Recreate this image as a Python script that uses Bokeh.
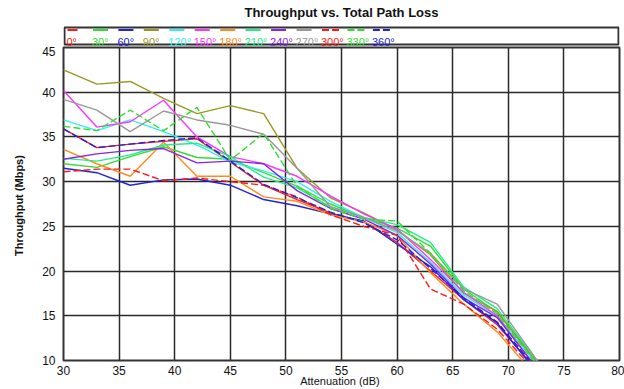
from bokeh.plotting import figure
from bokeh.layouts import column
from bokeh.models import Range1d, FixedTicker
from bokeh.core.properties import value
from bokeh.embed import file_html
from bokeh.resources import INLINE

# ---------------- data ----------------
attenuation = [30, 33, 36, 39, 42, 45, 48, 51, 54, 57, 60, 63, 66, 69, 73]

angles = ["0°", "30°", "60°", "90°", "120°", "150°", "180°", "210°", "240°", "270°", "300°", "330°", "360°"]

tp_0   = [35.9, 33.8, 34.2, 34.5, 34.8, 32.2, 29.6, 28.0, 26.5, 25.5, 23.2, 20.0, 16.8, 14.0, 8.3]
tp_30  = [32.0, 31.6, 32.8, 33.9, 32.7, 32.5, 31.0, 29.5, 27.5, 26.0, 24.8, 22.8, 18.0, 15.4, 9.0]
tp_60  = [31.5, 31.0, 29.6, 30.2, 30.3, 29.6, 28.0, 27.3, 26.4, 25.6, 23.0, 20.5, 16.8, 14.2, 8.0]
tp_90  = [42.5, 40.9, 41.2, 39.3, 37.6, 38.5, 37.6, 31.5, 28.2, 26.5, 24.6, 21.8, 17.5, 15.5, 9.2]
tp_120 = [36.9, 35.7, 36.9, 35.6, 34.1, 32.2, 31.2, 30.0, 27.8, 26.0, 24.3, 21.0, 17.3, 15.0, 8.9]
tp_150 = [40.2, 36.1, 36.7, 39.1, 35.0, 32.8, 32.0, 30.6, 28.4, 26.4, 24.7, 21.3, 17.6, 15.0, 8.3]
tp_180 = [33.6, 32.0, 30.6, 34.4, 30.6, 30.6, 28.3, 27.8, 26.3, 25.5, 24.0, 19.8, 16.3, 13.2, 7.5]
tp_210 = [32.6, 32.3, 33.0, 34.1, 34.3, 32.8, 30.5, 29.3, 27.2, 26.0, 25.2, 23.2, 18.2, 15.8, 9.3]
tp_240 = [32.5, 33.1, 33.5, 33.7, 32.1, 32.3, 32.0, 29.0, 27.0, 25.8, 24.0, 20.8, 17.0, 14.8, 8.5]
tp_270 = [39.2, 38.0, 35.6, 37.9, 36.9, 36.3, 35.3, 31.5, 27.2, 26.0, 24.5, 22.0, 18.0, 16.3, 9.3]
tp_300 = [31.1, 31.4, 31.4, 30.1, 30.4, 30.0, 29.6, 28.3, 26.3, 25.0, 24.0, 18.0, 16.3, 13.5, 8.0]
tp_330 = [36.2, 35.7, 38.0, 35.7, 38.3, 32.4, 35.4, 29.5, 27.0, 25.8, 25.6, 22.0, 17.8, 15.2, 8.8]
tp_360 = [35.9, 33.8, 34.2, 34.6, 34.9, 32.3, 29.7, 28.2, 26.6, 25.4, 23.5, 20.3, 17.0, 14.3, 8.4]

series = [tp_0, tp_30, tp_60, tp_90, tp_120, tp_150, tp_180, tp_210, tp_240, tp_270, tp_300, tp_330, tp_360]

x_ticks = [30, 35, 40, 45, 50, 55, 60, 65, 70, 75, 80]
y_ticks = [10, 15, 20, 25, 30, 35, 40, 45]

# ---------------- style ----------------
colors = ["#ff1a1a", "#33dd33", "#2222dd", "#999922", "#33eeee", "#ff33ff", "#ff8c1a",
          "#22ee88", "#8822ee", "#999999", "#ff1a1a", "#33dd33", "#2222dd"]
dashes = ["solid"] * 10 + ["7 3"] * 3
FONT = "Liberation Sans"

W = 624
LEG_H = 46
MAIN_H = 343
LEFT = 63
RIGHT = 5

# ---------------- title + legend strip ----------------
# its frame is aligned with the main frame by the column layout,
# so a range of (LEFT, W-RIGHT) gives page-pixel units
leg = figure(width=W, height=LEG_H, x_range=Range1d(LEFT, W - RIGHT), y_range=Range1d(0, LEG_H),
             x_axis_location=None, y_axis_location=None,
             output_backend="svg", toolbar_location=None,
             min_border_left=LEFT, min_border_right=RIGHT, min_border_top=0, min_border_bottom=0)
leg.grid.visible = False
leg.outline_line_color = None

# legend box
leg.quad(left=[LEFT + 1], right=[W - RIGHT - 1], bottom=[2], top=[19],
         fill_color=None, line_color="#333333", line_width=2)
# title
leg.text(x=[(LEFT + W - RIGHT) / 2], y=[34], text=["Throughput vs. Total Path Loss"],
         text_color="#111111", text_font=value(FONT), text_font_size="13px",
         text_font_style="bold", text_align="center", text_baseline="middle")

step = 25.45
for i, (lab, c, d) in enumerate(zip(angles, colors, dashes)):
    x0 = LEFT + 4 + i * step
    length = 20 if d != "solid" else (10 if i == 0 else 15)
    leg.segment(x0=[x0], y0=[16.5], x1=[x0 + length], y1=[16.5], line_color=c, line_width=2, line_dash=d)
    leg.text(x=[x0 - 1], y=[5], text=[lab], text_color=c, text_font=value(FONT),
             text_font_size="11px", text_baseline="alphabetic", text_align="left")

# ---------------- main figure ----------------
p = figure(width=W, height=MAIN_H, x_range=Range1d(30, 80), y_range=Range1d(10, 45),
           output_backend="svg", toolbar_location=None,
           min_border_left=LEFT, min_border_right=RIGHT, min_border_top=1, min_border_bottom=28)

for s, c, d in zip(series, colors, dashes):
    p.line(attenuation, s, line_color=c, line_width=1.4, line_dash=d)

p.xaxis.ticker = FixedTicker(ticks=x_ticks)
p.yaxis.ticker = FixedTicker(ticks=y_ticks)
p.xgrid.ticker = FixedTicker(ticks=x_ticks)
p.ygrid.ticker = FixedTicker(ticks=y_ticks)
p.grid.grid_line_color = "#2a2a2a"
p.grid.grid_line_width = 1.5
p.grid.grid_line_alpha = 1.0
p.grid.level = "underlay"

p.outline_line_color = "#333333"
p.outline_line_width = 2

for ax in (p.xaxis, p.yaxis):
    ax.axis_line_color = None
    ax.major_tick_line_color = None
    ax.minor_tick_line_color = None
    ax.major_label_text_font = FONT
    ax.major_label_text_font_size = "12px"
    ax.major_label_text_color = "#111111"
    ax.axis_label_text_font = FONT
    ax.axis_label_text_font_size = "11px"
    ax.axis_label_text_color = "#111111"

p.yaxis.major_label_standoff = 2
p.xaxis.major_label_standoff = -1
p.yaxis.axis_label = "Throughput  (Mbps)"
p.yaxis.axis_label_text_font_style = "bold"
p.yaxis.axis_label_standoff = 14
p.xaxis.axis_label = "Attenuation  (dB)"
p.xaxis.axis_label_text_font_style = "normal"
p.xaxis.axis_label_standoff = -3

layout = column(leg, p, spacing=0)
open("out.html", "w").write(file_html(layout, INLINE))
